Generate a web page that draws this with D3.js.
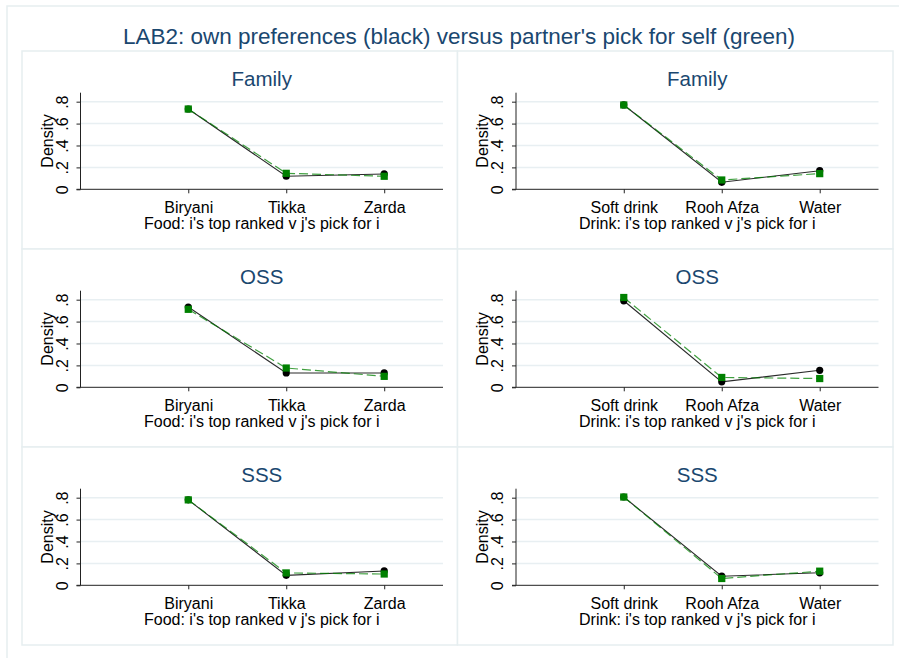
<!DOCTYPE html>
<html lang="en">
<head>
  <meta charset="UTF-8">
  <title>LAB2 preferences</title>
  <script src="https://d3js.org/d3.v7.min.js"></script>
  <style>
    body { margin: 0; background: #fff; font-family: "Liberation Sans", Arial, sans-serif; }
    svg { display: block; }
  </style>
</head>
<body>
  <script>
    // data
    var groups = ["Family", "OSS", "SSS"];
    var foodCats = ["Biryani", "Tikka", "Zarda"];
    var drinkCats = ["Soft drink", "Rooh Afza", "Water"];

    // own preferences (black), one row per group
    var ownFood = [
      [0.733, 0.119, 0.140],
      [0.733, 0.131, 0.131],
      [0.780, 0.091, 0.131]
    ];
    // partner's pick for self (green)
    var pickFood = [
      [0.733, 0.146, 0.119],
      [0.712, 0.176, 0.100],
      [0.780, 0.113, 0.103]
    ];
    var ownDrink = [
      [0.770, 0.064, 0.170],
      [0.790, 0.050, 0.155],
      [0.806, 0.083, 0.114]
    ];
    var pickDrink = [
      [0.770, 0.085, 0.143],
      [0.820, 0.090, 0.080],
      [0.806, 0.062, 0.129]
    ];

    var yTicks = [0, 0.2, 0.4, 0.6, 0.8];
    var yTickLabels = ["0", ".2", ".4", ".6", ".8"];
    var foodTitle = "Food: i's top ranked v j's pick for i";
    var drinkTitle = "Drink: i's top ranked v j's pick for i";
    var mainTitle = "LAB2: own preferences (black) versus partner's pick for self (green)";

    var W = 899, H = 658;
    var panelW = 435.5, panelH = 198;
    var panelX = [22, 457.5];
    var panelY = [51, 249, 447];

    var navy = "#1a476f";
    var lineCol = "#e6eef0";
    var green = "#008000";
    var fs = 16; // axis text size

    var svg = d3.select("body").append("svg")
        .attr("width", W)
        .attr("height", H);

    // outer frame
    svg.append("rect")
        .attr("x", 7).attr("y", 6)
        .attr("width", 905).attr("height", 660)
        .attr("fill", "#fff")
        .attr("stroke", lineCol)
        .attr("stroke-width", 1.5);

    svg.append("text")
        .attr("x", 459).attr("y", 44)
        .attr("text-anchor", "middle")
        .attr("font-size", 22.5)
        .attr("fill", navy)
        .text(mainTitle);

    // scales shared by every panel (panel-relative coordinates)
    var x = d3.scaleLinear().domain([-0.1, 3.6]).range([58.5, 421]);
    var y = d3.scaleLinear().domain([0, 0.882]).range([138.3, 41.7]);

    function drawPanel(px, py, title, cats, axisTitle, own, pick) {
      var g = svg.append("g").attr("transform", "translate(" + px + "," + py + ")");

      g.append("rect")
          .attr("width", panelW).attr("height", panelH)
          .attr("fill", "#fff")
          .attr("stroke", lineCol)
          .attr("stroke-width", 1.5);

      g.append("text")
          .attr("x", (x.range()[0] + x.range()[1]) / 2)
          .attr("y", 35)
          .attr("text-anchor", "middle")
          .attr("font-size", 20.5)
          .attr("fill", navy)
          .text(title);

      // grid lines
      g.selectAll(".grid")
        .data(yTicks.filter(function(d) { return d > 0; }))
        .enter().append("line")
          .attr("x1", x.range()[0]).attr("x2", x.range()[1])
          .attr("y1", function(d) { return y(d); })
          .attr("y2", function(d) { return y(d); })
          .attr("stroke", "#e8eff2")
          .attr("stroke-width", 1.5);

      // y axis
      var yAxis = d3.axisLeft(y)
          .tickValues(yTicks)
          .tickSize(4)
          .tickPadding(0)
          .tickFormat(function(d, i) { return yTickLabels[i]; });
      var ya = g.append("g")
          .attr("transform", "translate(" + x.range()[0] + ",0)")
          .call(yAxis);
      ya.select(".domain").remove();
      ya.append("line")
          .attr("y1", y.range()[1]).attr("y2", y.range()[0])
          .attr("stroke", "#222");
      ya.selectAll(".tick line").attr("stroke", "#222");
      ya.selectAll(".tick text")
          .attr("x", 0).attr("y", 0).attr("dy", null)
          .attr("transform", "translate(-18.5,0) rotate(-90)")
          .attr("text-anchor", "middle")
          .attr("dominant-baseline", "central")
          .attr("font-size", fs)
          .attr("font-family", "Liberation Sans, Arial, sans-serif")
          .attr("fill", "#000");

      g.append("text")
          .attr("transform", "translate(25," + ((y.range()[0] + y.range()[1]) / 2) + ") rotate(-90)")
          .attr("text-anchor", "middle")
          .attr("dominant-baseline", "central")
          .attr("font-size", fs)
          .attr("fill", "#000")
          .text("Density");

      // x axis
      var xAxis = d3.axisBottom(x)
          .tickValues([1, 2, 3])
          .tickSize(4)
          .tickPadding(8)
          .tickFormat(function(d) { return cats[d - 1]; });
      var xa = g.append("g")
          .attr("transform", "translate(0," + y(0) + ")")
          .call(xAxis);
      xa.select(".domain").remove();
      xa.append("line")
          .attr("x1", x.range()[0] - 4).attr("x2", x.range()[1])
          .attr("stroke", "#222");
      xa.selectAll(".tick line").attr("stroke", "#222");
      xa.selectAll(".tick text")
          .attr("font-size", fs)
          .attr("font-family", "Liberation Sans, Arial, sans-serif")
          .attr("fill", "#000");

      g.append("text")
          .attr("x", (x.range()[0] + x.range()[1]) / 2)
          .attr("y", 177.5)
          .attr("text-anchor", "middle")
          .attr("font-size", fs)
          .attr("fill", "#000")
          .text(axisTitle);

      var line = d3.line()
          .x(function(d, i) { return x(i + 1); })
          .y(function(d) { return y(d); });

      g.append("path")
          .datum(own)
          .attr("d", line)
          .attr("fill", "none")
          .attr("stroke", "#2a2a2a")
          .attr("stroke-width", 1.1);

      g.append("path")
          .datum(pick)
          .attr("d", line)
          .attr("fill", "none")
          .attr("stroke", green)
          .attr("stroke-opacity", 0.75)
          .attr("stroke-width", 1.2)
          .attr("stroke-dasharray", "9,4");

      g.selectAll(".own")
        .data(own)
        .enter().append("circle")
          .attr("cx", function(d, i) { return x(i + 1); })
          .attr("cy", function(d) { return y(d); })
          .attr("r", 3.6)
          .attr("fill", "#000");

      g.selectAll(".pick")
        .data(pick)
        .enter().append("rect")
          .attr("x", function(d, i) { return x(i + 1) - 3.6; })
          .attr("y", function(d) { return y(d) - 3.6; })
          .attr("width", 7.2).attr("height", 7.2)
          .attr("fill", green);
    }

    groups.forEach(function(name, r) {
      drawPanel(panelX[0], panelY[r], name, foodCats, foodTitle, ownFood[r], pickFood[r]);
      drawPanel(panelX[1], panelY[r], name, drinkCats, drinkTitle, ownDrink[r], pickDrink[r]);
    });
  </script>
</body>
</html>
